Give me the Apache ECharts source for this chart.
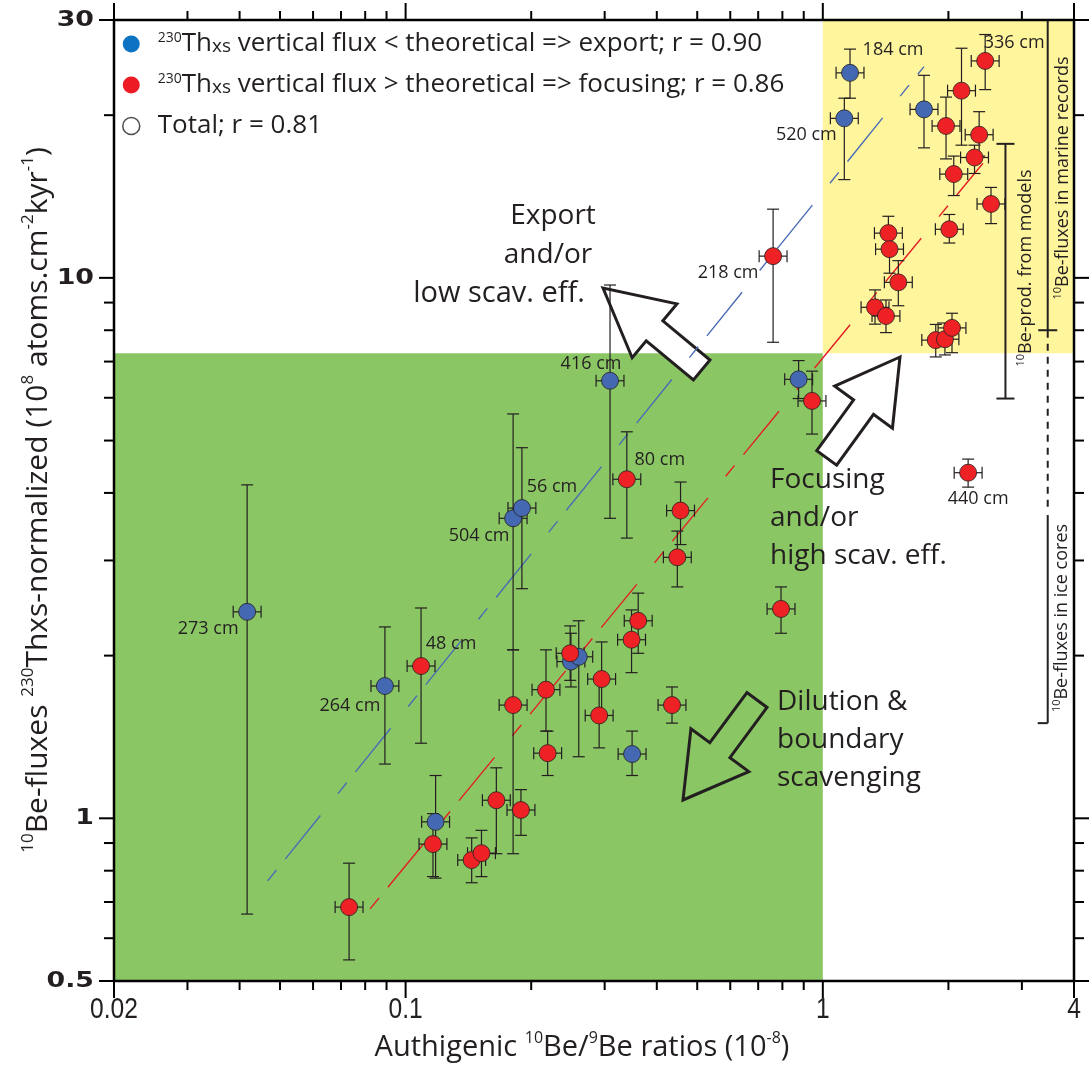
<!DOCTYPE html>
<html>
<head>
<meta charset="utf-8">
<script src="https://cdn.jsdelivr.net/npm/echarts@6/dist/echarts.min.js"></script>
<style>html,body{margin:0;padding:0;background:#fff}#c{width:1090px;height:1077px}</style>
</head>
<body>
<div id="c"></div>
<script>
// ================= DATA =================
const X_MIN = 0.02, X_MAX = 4, Y_MIN = 0.5, Y_MAX = 30;
const xMajorTicks = [0.02, 0.1, 1, 4];
const xMajorLabels = ['0.02', '0.1', '1', '4'];
const xMinorTicks = [0.03, 0.04, 0.05, 0.06, 0.07, 0.08, 0.09, 0.2, 0.3, 0.4, 0.5, 0.6, 0.7, 0.8, 0.9, 2, 3];
const yMajorTicks = [0.5, 1, 10, 30];
const yMajorLabels = ['0.5', '1', '10', '30'];
const yMinorTicks = [0.6, 0.7, 0.8, 0.9, 2, 3, 4, 5, 6, 7, 8, 9, 20];

// blue: 230Th vertical flux < theoretical (export)
const blueX     = [0.0417, 0.0892, 0.118, 0.181, 0.190, 0.249, 0.260, 0.309, 0.349, 0.875, 1.126, 1.162, 1.748];
const blueY     = [2.41,   1.757,  0.985, 3.59,  3.75,  1.95,  1.99,  6.45,  1.315, 6.49,  19.73, 23.95, 20.5];
const blueYLow  = [0.665,  1.26,   0.775, 2.05,  2.66,  1.75,  1.30,  3.59,  1.20,  5.98,  15.2,  21.5,  17.4];
const blueYHigh = [4.14,   2.26,   1.20,  5.6,   4.85,  2.20,  2.32,  9.7,   1.45,  7.03,  21.5,  26.5,  23.7];
const blueLabels = ['273 cm', '264 cm', '', '504 cm', '56 cm', '', '', '416 cm', '', '', '520 cm', '184 cm', ''];

// red: 230Th vertical flux > theoretical (focusing)
const redX     = [0.0732, 0.1089, 0.1163, 0.144, 0.152, 0.165, 0.181, 0.189, 0.217, 0.219, 0.248, 0.291, 0.295, 0.339, 0.348, 0.361, 0.435, 0.448, 0.456, 0.76, 0.794, 0.942, 1.334, 1.417, 1.436, 1.445, 1.517, 1.865, 1.962, 1.974, 2.01, 2.04, 2.06, 2.15, 2.23, 2.31, 2.37, 2.45, 2.53];
const redY     = [0.685,  1.913,  0.896,  0.837, 0.862, 1.08,  1.62,  1.036, 1.73,  1.32,  2.02,  1.55,  1.81,  4.24,  2.14,  2.32,  1.62,  3.04,  3.71,  10.97, 2.44,  5.92,  8.82,  8.5,   12.1,  11.3,  9.81,  7.67,  7.7,   19.1,  12.3, 8.08, 15.56, 22.2, 4.36, 16.7, 18.4, 25.2, 13.7];
const redYLow  = [0.547,  1.377,  0.78,   0.76,  0.78,  0.86,  0.86,  0.93,  1.45,  1.20,  1.80,  1.35,  1.55,  3.30,  1.86,  2.02,  1.50,  2.68,  3.21,  7.6,   2.20,  5.14,  8.21,  7.92,  11.3,  10.2,  8.88,  7.14,  7.2,   16.6,  11.6, 7.27, 14.2,  17.6, 4.10, 15.6, 16.8, 22.3, 12.6];
const redYHigh = [0.826,  2.45,   1.02,   0.92,  0.95,  1.24,  2.05,  1.13,  2.05,  1.45,  2.27,  1.80,  2.12,  5.19,  2.43,  2.61,  1.75,  3.40,  4.19,  13.4,  2.68,  6.72,  9.5,   9.1,   13.0,  12.1,  10.76, 8.2,   8.25,  21.6,  13.1, 8.6,  16.8,  26.6, 4.62, 17.6, 20.3, 28.2, 14.7];
const redLabels = ['', '48 cm', '', '', '', '', '', '', '', '', '', '', '', '80 cm', '', '', '', '', '', '218 cm', '', '', '', '', '', '', '', '', '', '', '', '', '', '', '440 cm', '', '', '336 cm', ''];

// horizontal (ratio) error read as a relative half-width of the whiskers
const X_ERR_FRACTION = 0.08;

// log-log regression lines (end points)
const blueFitX = [0.0467, 1.748];
const blueFitY = [0.766, 24.6];
const redFitX = [0.0822, 2.42];
const redFitY = [0.68, 16.3];

// shaded domains [x0, y0, x1, y1]
const greenZone = [0.02, 0.5, 1, 7.25];
const yellowZone = [1, 7.25, 4, 30];

// reference ranges [x, yLow, yHigh]
const modelsRange = [2.74, 5.98, 17.7];
const marineRange = [3.46, 8.0, 30];
const marineDashed = [3.46, 3.77, 8.0];
const iceRange = [3.46, 1.5, 3.64];

// ================= STYLE =================
const INK = '#231f20';
const FONT = 'Open Sans';
const LABEL_OFFSET = {
  '273 cm': [-39, 17], '264 cm': [-35, 20], '48 cm': [30, -22], '504 cm': [-34, 18],
  '56 cm': [30, -21], '416 cm': [-19, -17], '80 cm': [33, -19], '218 cm': [-45, 17],
  '520 cm': [-38, 17], '184 cm': [43, -23], '336 cm': [29, -18], '440 cm': [10, 26]
};

function arrowPoints(tip, tail, hl, hw, sw) {
  const dx = tail[0] - tip[0], dy = tail[1] - tip[1], L = Math.hypot(dx, dy);
  const ux = dx / L, uy = dy / L, nx = -uy, ny = ux;
  const bx = tip[0] + ux * hl, by = tip[1] + uy * hl;
  return [tip, [bx + nx * hw, by + ny * hw], [bx + nx * sw, by + ny * sw],
    [tail[0] + nx * sw, tail[1] + ny * sw], [tail[0] - nx * sw, tail[1] - ny * sw],
    [bx - nx * sw, by - ny * sw], [bx - nx * hw, by - ny * hw]];
}

function titleRich(size) {
  return {
    m: { fontSize: size, fontFamily: FONT, color: INK, lineHeight: size + 6 },
    sup: { fontSize: Math.round(size * 0.56), fontFamily: FONT, color: INK, verticalAlign: 'top', padding: [0, 0, 0, 0] }
  };
}
const smallRich = {
  m: { fontSize: 18, fontFamily: FONT, color: INK, lineHeight: 22 },
  sup: { fontSize: 11, fontFamily: FONT, color: INK, verticalAlign: 'top', padding: [0, 0, 0, 0] }
};

function textEl(x, y, text, opts) {
  return Object.assign({
    type: 'text', x: x, y: y, z: 7,
    style: Object.assign({
      text: text, fill: INK, fontFamily: FONT, fontSize: 28,
      textAlign: 'center', align: 'center', textVerticalAlign: 'middle', verticalAlign: 'middle'
    }, opts.style || {})
  }, opts.el || {});
}

function pointItems(xs, ys, labels) {
  return xs.map(function (x, i) {
    const it = { value: [x, ys[i]] };
    if (labels[i]) {
      it.label = { show: true, formatter: labels[i], offset: LABEL_OFFSET[labels[i]] };
    }
    return it;
  });
}
function errItems(xs, ys, lo, hi) {
  return xs.map(function (x, i) { return [x, ys[i], lo[i], hi[i]]; });
}

function renderErr(params, api) {
  const x = api.value(0), y = api.value(1), yl = api.value(2), yh = api.value(3);
  const p = api.coord([x, y]);
  const pl = api.coord([x, yl]), ph = api.coord([x, yh]);
  const xl = api.coord([x / (1 + X_ERR_FRACTION), y]), xh = api.coord([x * (1 + X_ERR_FRACTION), y]);
  const st = { stroke: INK, lineWidth: 1.2 };
  const c = 6;
  const L = function (x1, y1, x2, y2) { return { type: 'line', shape: { x1: x1, y1: y1, x2: x2, y2: y2 }, style: st }; };
  return {
    type: 'group', children: [
      L(p[0], pl[1], p[0], ph[1]),
      L(p[0] - c, pl[1], p[0] + c, pl[1]),
      L(p[0] - c, ph[1], p[0] + c, ph[1]),
      L(xl[0], p[1], xh[0], p[1]),
      L(xl[0], p[1] - c, xl[0], p[1] + c),
      L(xh[0], p[1] - c, xh[0], p[1] + c)
    ]
  };
}

const zoneColors = ['#8bc665', '#fff59c'];
const refData = [
  [modelsRange[0], modelsRange[1], modelsRange[2], 0],
  [marineRange[0], marineRange[1], marineRange[2], 1],
  [marineDashed[0], marineDashed[1], marineDashed[2], 2],
  [iceRange[0], iceRange[1], iceRange[2], 3]
];

const option = {
  animation: false,
  backgroundColor: '#fff',
  textStyle: { fontFamily: FONT },
  grid: { left: 114, top: 20, right: 16, bottom: 96, show: true, borderColor: '#000', borderWidth: 2.5, backgroundColor: 'transparent', z: 10 },
  xAxis: { type: 'log', logBase: 10, min: X_MIN, max: X_MAX, axisLine: { show: false }, axisTick: { show: false }, axisLabel: { show: false }, splitLine: { show: false } },
  yAxis: { type: 'log', logBase: 10, min: Y_MIN, max: Y_MAX, axisLine: { show: false }, axisTick: { show: false }, axisLabel: { show: false }, splitLine: { show: false } },
  legend: {
    orient: 'vertical', left: 117, top: 26, itemWidth: 17, itemHeight: 17, itemGap: 15,
    selectedMode: false,
    data: [
      { name: 'export', icon: 'circle', itemStyle: { color: '#0b73c2', borderWidth: 0 } },
      { name: 'focusing', icon: 'circle', itemStyle: { color: '#ed1c24', borderWidth: 0 } },
      { name: 'total', icon: 'circle', itemStyle: { color: '#ffffff', borderColor: INK, borderWidth: 1.5 } }
    ],
    formatter: function (n) {
      if (n === 'export') return '{gap|}{sup|230}{m|Th}{xs|xs}{m| vertical flux < theoretical => export; r = 0.90}';
      if (n === 'focusing') return '{gap|}{sup|230}{m|Th}{xs|xs}{m| vertical flux > theoretical => focusing; r = 0.86}';
      return '{gap|}{m|Total; r = 0.81}';
    },
    textStyle: {
      rich: {
        gap: { width: 13 },
        m: { fontSize: 26, fontFamily: FONT, color: INK, lineHeight: 30 },
        sup: { fontSize: 14, fontFamily: FONT, color: INK, verticalAlign: 'top', padding: [2, 0, 0, 0] },
        xs: { fontSize: 19, fontFamily: FONT, color: INK, padding: [5, 0, 0, 0] }
      }
    }
  },
  graphic: [
    // arrows
    { type: 'polygon', z: 2, shape: { points: arrowPoints([603, 288], [701.7, 370], 67, 35, 13) }, style: { fill: '#ffffff', stroke: INK, lineWidth: 3 } },
    { type: 'polygon', z: 2, shape: { points: arrowPoints([900, 357], [826.7, 457.9], 62, 35.7, 12.3) }, style: { fill: '#ffffff', stroke: INK, lineWidth: 3 } },
    { type: 'polygon', z: 2, shape: { points: arrowPoints([683, 800], [757, 700], 62, 36, 12.5) }, style: { fill: 'transparent', stroke: INK, lineWidth: 3 } },
    // arrow texts
    textEl(553, 216, 'Export', {}),
    textEl(548, 255, 'and/or', {}),
    textEl(499, 294, 'low scav. eff.', { style: { fontSize: 29 } }),
    textEl(770, 480, 'Focusing', { style: { textAlign: 'left', align: 'left' } }),
    textEl(770, 518, 'and/or', { style: { textAlign: 'left', align: 'left' } }),
    textEl(770, 556, 'high scav. eff.', { style: { textAlign: 'left', align: 'left' } }),
    textEl(777, 702, 'Dilution &', { style: { textAlign: 'left', align: 'left' } }),
    textEl(777, 740, 'boundary', { style: { textAlign: 'left', align: 'left' } }),
    textEl(777, 778, 'scavenging', { style: { textAlign: 'left', align: 'left' } }),
    // axis titles
    textEl(582, 1048, '{m|Authigenic }{sup|10}{m|Be/}{sup|9}{m|Be ratios (10}{sup|-8}{m|)}', { style: { rich: titleRich(29) } }),
    textEl(38, 500, '{sup|10}{m|Be-fluxes }{sup|230}{m|Thxs-normalized (10}{sup|8}{m| atoms.cm}{sup|-2}{m|kyr}{sup|-1}{m|)}', { style: { rich: titleRich(30) }, el: { rotation: Math.PI / 2 } }),
    // reference range texts
    textEl(1026, 268, '{sup|10}{m|Be-prod. from models}', { style: { rich: smallRich }, el: { rotation: Math.PI / 2 } }),
    textEl(1063, 178, '{sup|10}{m|Be-fluxes in marine records}', { style: { rich: smallRich }, el: { rotation: Math.PI / 2 } }),
    textEl(1062, 618, '{sup|10}{m|Be-fluxes in ice cores}', { style: { rich: smallRich }, el: { rotation: Math.PI / 2 } })
  ],
  series: [
    {
      name: 'zones', type: 'custom', z: 1, silent: true,
      data: [greenZone.concat([0]), yellowZone.concat([1])],
      encode: { x: [0, 2], y: [1, 3] },
      renderItem: function (params, api) {
        const a = api.coord([api.value(0), api.value(1)]);
        const b = api.coord([api.value(2), api.value(3)]);
        return { type: 'rect', shape: { x: Math.min(a[0], b[0]), y: Math.min(a[1], b[1]), width: Math.abs(b[0] - a[0]), height: Math.abs(b[1] - a[1]) }, style: { fill: zoneColors[api.value(4)] } };
      }
    },
    {
      name: 'blueFit', type: 'line', z: 3, silent: true, symbol: 'none',
      data: blueFitX.map(function (x, i) { return [x, blueFitY[i]]; }),
      lineStyle: { color: '#4a6cb4', width: 1.4, type: [14, 14, 56, 28] }
    },
    {
      name: 'redFit', type: 'line', z: 3, silent: true, symbol: 'none',
      data: redFitX.map(function (x, i) { return [x, redFitY[i]]; }),
      lineStyle: { color: '#e31e24', width: 1.4, type: [14, 14, 56, 28] }
    },
    {
      name: 'refs', type: 'custom', z: 4, silent: true,
      data: refData,
      encode: { x: 0, y: [1, 2] },
      renderItem: function (params, api) {
        const x = api.value(0), kind = api.value(3);
        const lo = api.coord([x, api.value(1)]), hi = api.coord([x, api.value(2)]);
        const st = { stroke: INK, lineWidth: 2 };
        const ch = [{ type: 'line', shape: { x1: lo[0], y1: lo[1], x2: hi[0], y2: hi[1] }, style: kind === 2 ? { stroke: INK, lineWidth: 2, lineDash: [7, 6] } : st }];
        if (kind === 0) {
          ch.push({ type: 'line', shape: { x1: lo[0] - 9, y1: lo[1], x2: lo[0] + 9, y2: lo[1] }, style: st });
          ch.push({ type: 'line', shape: { x1: hi[0] - 9, y1: hi[1], x2: hi[0] + 9, y2: hi[1] }, style: st });
        } else if (kind === 1) {
          ch.push({ type: 'line', shape: { x1: lo[0] - 9.5, y1: lo[1], x2: lo[0] + 9.5, y2: lo[1] }, style: st });
        } else if (kind === 3) {
          ch.push({ type: 'line', shape: { x1: lo[0] - 10, y1: lo[1], x2: lo[0], y2: lo[1] }, style: st });
        }
        return { type: 'group', children: ch };
      }
    },
    {
      name: 'errors', type: 'custom', z: 4, silent: true,
      data: errItems(blueX, blueY, blueYLow, blueYHigh).concat(errItems(redX, redY, redYLow, redYHigh)),
      encode: { x: 0, y: 1 },
      renderItem: renderErr
    },
    {
      name: 'export', type: 'scatter', z: 5, symbol: 'circle', symbolSize: 17,
      itemStyle: { color: '#4468b2', borderColor: INK, borderWidth: 0.8, opacity: 1 },
      label: { position: 'inside', fontFamily: FONT, fontSize: 18, color: INK },
      emphasis: { disabled: true },
      data: pointItems(blueX, blueY, blueLabels)
    },
    {
      name: 'focusing', type: 'scatter', z: 5, symbol: 'circle', symbolSize: 17,
      itemStyle: { color: '#ee2225', borderColor: INK, borderWidth: 0.8, opacity: 1 },
      label: { position: 'inside', fontFamily: FONT, fontSize: 18, color: INK },
      emphasis: { disabled: true },
      data: pointItems(redX, redY, redLabels)
    },
    { name: 'total', type: 'scatter', data: [], itemStyle: { color: '#fff', borderColor: INK, borderWidth: 1.5 } },
    {
      name: 'xTicks', type: 'custom', z: 6, silent: true,
      data: xMajorTicks.map(function (v, i) { return [v, 1, 1, i]; }).concat(xMinorTicks.map(function (v) { return [v, 1, 0, -1]; })),
      encode: { x: 0, y: 1 },
      renderItem: function (params, api) {
        const v = api.value(0), major = api.value(2), li = api.value(3);
        const pb = api.coord([v, Y_MIN]), pt = api.coord([v, Y_MAX]);
        const len = major ? 17 : 9;
        const st = { stroke: '#000', lineWidth: 2 };
        const ch = [
          { type: 'line', shape: { x1: pb[0], y1: pb[1], x2: pb[0], y2: pb[1] + len }, style: st },
          { type: 'line', shape: { x1: pt[0], y1: pt[1], x2: pt[0], y2: pt[1] - len }, style: st }
        ];
        if (li >= 0) {
          ch.push({ type: 'text', x: pb[0], y: pb[1] + 29, scaleX: 0.82,
            style: { text: xMajorLabels[li], fill: INK, fontFamily: 'Liberation Sans', fontSize: 30, textAlign: 'center', align: 'center', textVerticalAlign: 'middle', verticalAlign: 'middle' } });
        }
        return { type: 'group', children: ch };
      }
    },
    {
      name: 'yTicks', type: 'custom', z: 6, silent: true,
      data: yMajorTicks.map(function (v, i) { return [1, v, 1, i]; }).concat(yMinorTicks.map(function (v) { return [1, v, 0, -1]; })),
      encode: { x: 0, y: 1 },
      renderItem: function (params, api) {
        const v = api.value(1), major = api.value(2), li = api.value(3);
        const pl = api.coord([X_MIN, v]), pr = api.coord([X_MAX, v]);
        const len = major ? 15 : 10;
        const st = { stroke: '#000', lineWidth: 2 };
        const ch = [
          { type: 'line', shape: { x1: pl[0], y1: pl[1], x2: pl[0] - len, y2: pl[1] }, style: st },
          { type: 'line', shape: { x1: pr[0], y1: pr[1], x2: pr[0] + len, y2: pr[1] }, style: st }
        ];
        if (li >= 0) {
          ch.push({ type: 'text', x: pl[0] - 20, y: pl[1], scaleX: 1.22,
            style: { text: yMajorLabels[li], fill: INK, fontFamily: 'DejaVu Sans', fontWeight: 'bold', fontSize: 22, textAlign: 'right', align: 'right', textVerticalAlign: 'middle', verticalAlign: 'middle' } });
        }
        return { type: 'group', children: ch };
      }
    }
  ]
};

const chart = echarts.init(document.getElementById('c'));
chart.setOption(option);
</script>
</body>
</html>
